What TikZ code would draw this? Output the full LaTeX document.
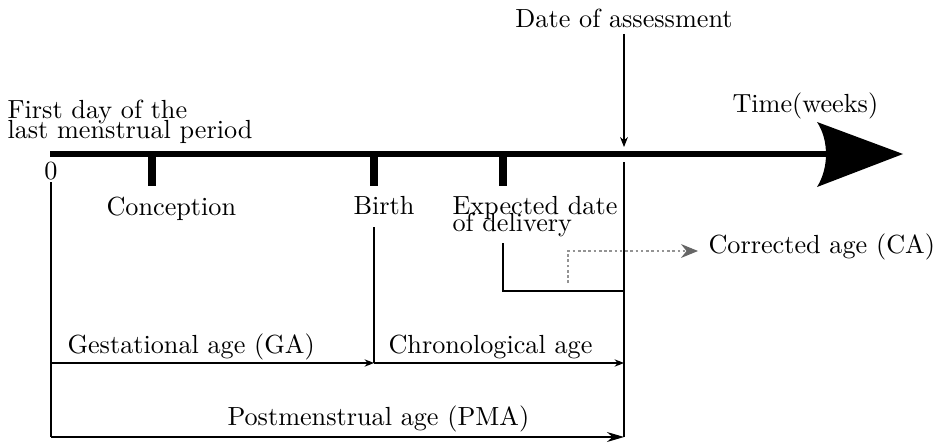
\documentclass[tikz,border=0pt]{standalone}
\usepackage{amsmath}
\usetikzlibrary{calc,arrows.meta}

\begin{document}
\begin{tikzpicture}[x=0.01341cm,y=-0.01341cm,every node/.style={inner sep=0pt}]

    \pgfmathsetmacro\ty{154}
    \pgfmathsetmacro\tb{186}
    \pgfmathsetmacro\yga{363}
    \pgfmathsetmacro\ypma{437}
    \newcommand{\mtick}[2]{
        \coordinate (#2) at (#1,\ty);
        \draw[line width=3pt] (#2) -- (#1,\tb);
    }
    \tikzset{
        small tip/.style={-{Stealth[length=3.6pt,width=2.8pt]}},
        big tip/.style={-{Stealth[length=6.5pt,width=3.8pt]}}
    }

    \useasboundingbox (0,0) rectangle (944,442);

    \coordinate (zero) at (51,\ty);
    \coordinate (doa) at (624,\ty);
    \mtick{152}{conc}
    \mtick{374}{birth}
    \mtick{503}{edd}
    \coordinate (ga0) at (51,\yga);
    \coordinate (ga1) at (374,\yga);
    \coordinate (ca1) at (624,\yga);
    \coordinate (pma0) at (51,\ypma);
    \coordinate (pma1) at (624,\ypma);

    % time axis
    \draw[line width=2.5pt] (50,\ty) -- (828,\ty);
    \fill (903,\ty) -- (817,122) .. controls (829,140) and (829,168) .. (817,187) -- cycle;

    \node[anchor=base] (assess) at (624,27) {Date of assessment};
    \node[anchor=base west] (time) at (732,112) {Time(weeks)};
    \node[anchor=north west,align=left] (lmp) at (7,99) {First day of the\\[-4pt]last menstrual period};
    \node[anchor=base] (zlab) at (51,179) {0};
    \node[anchor=base west] (conclab) at (106,215) {Conception};
    \node[anchor=base west] (birthlab) at (353,214) {Birth};
    \node[anchor=north west,align=left] (eddlab) at (452,196) {Expected date\\[-5.6pt]of delivery};
    \node[anchor=base west] (calab) at (708,253) {Corrected age (CA)};
    \node[anchor=base west] (galab) at (67,353) {Gestational age (GA)};
    \node[anchor=base west] (chlab) at (388,353) {Chronological age};
    \node[anchor=base west] (pmalab) at (227,425) {Postmenstrual age (PMA)};

    \draw[-{Stealth[length=3.8pt,width=3pt]}] ($(assess.south)+(0,6)$) -- ($(doa)+(0,-7)$);
    \draw ($(doa)+(0,8)$) -- (pma1);
    \draw ($(zlab.south)+(0,2)$) -- (pma0);
    \draw ($(birth)+(0,73)$) -- (ga1);
    \draw ($(edd)+(0,89)$) |- ($(doa)+(0,137)$);

    \coordinate (cas) at (568,283);
    \coordinate (cae) at (698,251);
    \draw[gray!85,dash pattern=on 1pt off 1pt,-{Stealth[length=6.5pt,width=5.3pt,color=gray!80!black]}] (cas) |- (cae);

    \draw[small tip] (ga0) -- (ga1);
    \draw[small tip] (ga1) -- (ca1);
    \draw[big tip] (pma0) -- (pma1);

\end{tikzpicture}
\end{document}
